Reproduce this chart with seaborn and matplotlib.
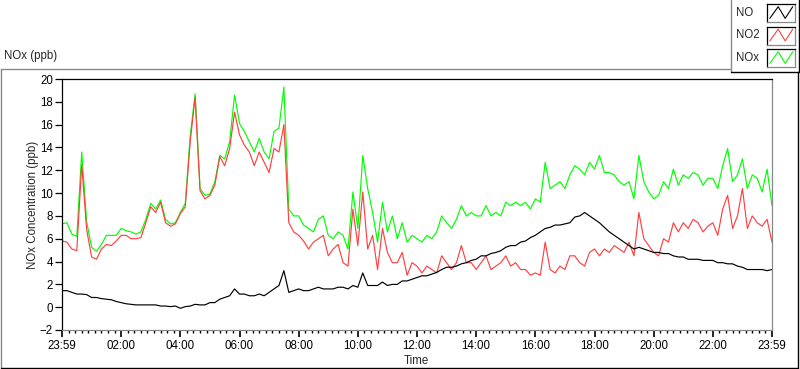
import numpy as np
import pandas as pd
import seaborn as sns
import matplotlib.pyplot as plt
from matplotlib.lines import Line2D
from matplotlib.patches import Rectangle

# 10-minute readings, 23:59 -> 23:59 next day
no = [1.45, 1.45, 1.3, 1.15, 1.15, 1.1, 0.85, 0.85, 0.75, 0.7,
      0.65, 0.5, 0.4, 0.3, 0.25, 0.2, 0.2, 0.2, 0.2, 0.2,
      0.1, 0.1, 0.05, 0.1, -0.1, 0.05, 0.1, 0.25, 0.2, 0.2,
      0.4, 0.4, 0.7, 0.85, 1.0, 1.6, 1.15, 1.15, 1.0, 1.0,
      1.15, 1.0, 1.3, 1.6, 1.9, 3.2, 1.3, 1.45, 1.6, 1.45,
      1.45, 1.6, 1.75, 1.6, 1.6, 1.6, 1.75, 1.75, 1.6, 1.9,
      1.75, 3.0, 1.9, 1.9, 1.9, 2.2, 1.9, 2.0, 2.0, 2.3,
      2.3, 2.45, 2.6, 2.75, 2.75, 2.9, 3.05, 3.3, 3.5, 3.5,
      3.6, 3.8, 3.9, 4.1, 4.2, 4.5, 4.5, 4.7, 4.8, 4.95,
      5.25, 5.4, 5.4, 5.7, 5.8, 6.1, 6.3, 6.6, 6.9, 7.0,
      7.2, 7.2, 7.3, 7.4, 7.9, 8.0, 8.3, 8.0, 7.7, 7.4,
      7.0, 6.6, 6.3, 6.0, 5.7, 5.4, 5.1, 5.25, 5.1, 4.95,
      4.8, 4.8, 4.7, 4.7, 4.5, 4.4, 4.4, 4.2, 4.2, 4.2,
      4.1, 4.1, 4.1, 3.9, 3.9, 3.8, 3.8, 3.6, 3.5, 3.3,
      3.3, 3.3, 3.3, 3.2, 3.3]
no2 = [5.8, 5.7, 5.1, 4.95, 12.5, 6.8, 4.4, 4.2, 5.1, 5.5,
       5.4, 5.8, 6.3, 6.3, 6.0, 6.0, 6.1, 7.4, 8.8, 8.3,
       9.2, 7.4, 7.1, 7.3, 8.2, 8.8, 14.5, 18.4, 10.2, 9.5,
       9.8, 10.7, 13.2, 12.4, 13.9, 17.1, 15.1, 14.2, 13.6, 12.4,
       13.6, 12.7, 11.8, 13.9, 13.6, 16.0, 7.4, 6.6, 6.3, 5.8,
       5.1, 5.7, 6.0, 6.3, 4.5, 5.1, 5.5, 3.9, 3.6, 8.6,
       5.4, 10.1, 5.1, 6.3, 3.3, 6.9, 4.8, 3.9, 3.9, 4.8,
       2.8, 3.9, 3.6, 3.0, 3.6, 3.3, 3.0, 4.5, 3.9, 3.3,
       3.9, 5.4, 3.9, 3.9, 3.3, 3.9, 4.5, 3.3, 3.6, 3.9,
       4.5, 3.6, 3.9, 3.3, 3.3, 2.8, 3.0, 2.8, 5.7, 3.3,
       3.0, 3.6, 3.3, 4.5, 4.5, 3.9, 3.6, 4.8, 5.1, 4.5,
       5.1, 4.8, 5.4, 5.1, 4.8, 5.7, 4.5, 8.3, 6.0, 5.4,
       4.8, 4.5, 6.0, 5.7, 7.4, 6.6, 7.4, 6.9, 7.7, 7.4,
       6.6, 7.1, 7.4, 6.3, 8.6, 9.8, 6.9, 8.0, 10.4, 6.9,
       8.0, 7.4, 7.1, 7.7, 5.7]
nox = [7.3, 7.4, 6.4, 6.2, 13.6, 7.5, 5.25, 4.9, 5.5, 6.3,
       6.3, 6.3, 6.9, 6.7, 6.6, 6.4, 6.6, 7.7, 9.1, 8.6,
       9.4, 7.7, 7.3, 7.4, 8.3, 9.1, 15.0, 18.7, 10.4, 9.8,
       9.9, 11.0, 13.3, 13.0, 14.5, 18.6, 16.1, 15.4, 14.5, 13.6,
       14.8, 13.6, 13.0, 15.4, 15.7, 19.3, 8.6, 8.0, 8.0, 7.2,
       6.9, 6.6, 7.7, 8.0, 6.3, 6.0, 6.6, 6.3, 5.1, 10.1,
       6.9, 13.3, 10.4, 8.3, 5.7, 9.2, 6.6, 8.0, 6.0, 7.4,
       5.7, 6.3, 6.0, 5.7, 6.3, 6.0, 6.6, 8.0, 7.4, 6.9,
       7.7, 8.9, 8.0, 8.3, 8.0, 8.0, 8.9, 8.0, 8.3, 8.0,
       9.2, 8.9, 9.2, 8.9, 9.2, 8.6, 9.5, 9.2, 12.7, 10.4,
       10.7, 11.0, 10.4, 11.6, 12.4, 12.1, 11.6, 12.7, 12.1, 13.3,
       11.8, 11.8, 11.6, 11.0, 10.7, 11.0, 9.5, 13.3, 11.0, 10.1,
       9.5, 9.8, 11.0, 10.4, 12.1, 10.7, 11.6, 11.3, 11.8, 11.6,
       10.7, 11.3, 11.3, 10.4, 12.4, 13.9, 11.0, 11.6, 13.0, 10.4,
       11.6, 11.3, 10.1, 12.1, 8.9]
tick_labels = ["23:59", "02:00", "04:00", "06:00", "08:00", "10:00", "12:00",
               "14:00", "16:00", "18:00", "20:00", "22:00", "23:59"]
series = ["NO", "NO2", "NOx"]
colors = {"NO": "#000000", "NO2": "#ff4040", "NOx": "#00ff00"}

start = pd.Timestamp("2024-01-01 23:59")
times = pd.date_range(start, periods=len(no), freq="10min")

df = pd.concat([
    pd.DataFrame({"Time": times, "ppb": nox, "series": "NOx"}),
    pd.DataFrame({"Time": times, "ppb": no2, "series": "NO2"}),
    pd.DataFrame({"Time": times, "ppb": no, "series": "NO"}),
])

sns.set_style("white")
plt.rcParams["font.family"] = ["Liberation Sans", "DejaVu Sans"]
plt.rcParams["font.size"] = 8.3

W, H = 800, 369
fig = plt.figure(figsize=(W / 100, H / 100), dpi=100)

def fx(px):
    return px / W

def fy(py):
    return 1 - py / H

ax = fig.add_axes([fx(62), fy(330), fx(772) - fx(62), fy(79) - fy(330)])
sns.lineplot(data=df, x="Time", y="ppb", hue="series", hue_order=["NOx", "NO2", "NO"],
             palette=colors, linewidth=0.85, legend=False, ax=ax)

ax.set_xlim(times[0], times[-1])
ax.set_ylim(-2, 20)
ax.set_yticks(np.arange(-2, 21, 2))
majors = pd.date_range(start, periods=13, freq="2h")
ax.set_xticks(majors)
ax.set_xticklabels(tick_labels)
ax.set_xticks(pd.date_range(start, majors[-1], periods=12 * 9 + 1), minor=True)
ax.set_xlabel("")
ax.set_ylabel("")

ax.spines["left"].set_color("black")
ax.spines["top"].set_color("black")
ax.spines["right"].set_color("#888888")
ax.spines["bottom"].set_color("#888888")
for s in ax.spines.values():
    s.set_linewidth(0.9)
ax.tick_params(axis="y", direction="out", length=5, width=0.9, pad=1.5, colors="black", left=True)
ax.tick_params(axis="x", which="major", direction="out", length=5, width=1.2, pad=2.5, colors="black", bottom=True)
ax.tick_params(axis="x", which="minor", direction="out", length=2.5, width=1, colors="black", bottom=True)

fig.text(fx(33), fy(205), "NOx Concentration (ppb)", rotation=90, ha="center", va="center")
fig.text(fx(416), fy(361), "Time", ha="center", va="center")
fig.text(fx(4), fy(56), "NOx (ppb)", ha="left", va="center")

# panel frame
fig.add_artist(Line2D([fx(0.5), fx(730)], [fy(68.5), fy(68.5)], color="#888888", lw=1))
fig.add_artist(Line2D([fx(0.5), fx(0.5)], [fy(68.5), fy(367.5)], color="#888888", lw=1))
fig.add_artist(Line2D([fx(0.5), fx(797.5)], [fy(367.5), fy(367.5)], color="black", lw=1))
fig.add_artist(Line2D([fx(797.5), fx(797.5)], [fy(72), fy(367.5)], color="black", lw=1))

# legend box
fig.add_artist(Line2D([fx(730.5), fx(730.5)], [fy(0), fy(72)], color="#888888", lw=1))
fig.add_artist(Line2D([fx(730.5), fx(798.5)], [fy(72), fy(72)], color="black", lw=1))
fig.add_artist(Line2D([fx(798.5), fx(798.5)], [fy(0), fy(72)], color="black", lw=1))
for k, name in enumerate(series):
    yc = 13 + 22.5 * k
    fig.text(fx(736), fy(yc), name, ha="left", va="center")
    sw = fig.add_axes([fx(767), fy(yc + 9), fx(28), fx(28) * W / H * 18 / 28 * H / W * W / W])
    sw.set_position([fx(767), fy(yc + 9), 28 / W, 18 / H])
    sw.plot([0.1, 0.4, 0.65, 0.92], [0.2, 0.85, 0.2, 0.85], color=colors[name], lw=0.8)
    sw.set_xlim(0, 1)
    sw.set_ylim(0, 1)
    sw.set_xticks([])
    sw.set_yticks([])
    for side, s in sw.spines.items():
        s.set_linewidth(0.9)
        s.set_color("black" if side in ("top", "left") else "#888888")

fig.savefig("out.png", dpi=100)
